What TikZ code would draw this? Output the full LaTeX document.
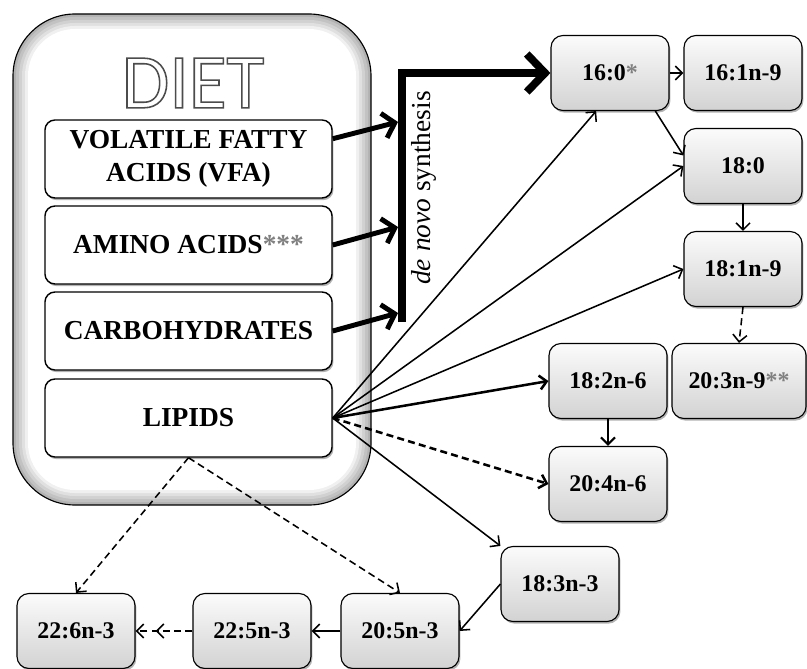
\documentclass[tikz,border=0pt]{standalone}
\usepackage{fontspec}
\setmainfont{Liberation Serif}
\newfontfamily\dietfont{Carlito}
\usetikzlibrary{arrows.meta,shadows}

\newcommand{\stars}[1]{\textcolor{gray}{#1}}
\newcommand{\hollow}[1]{\special{pdf:literal 1 Tr 1.1 w 0.3 G}#1\special{pdf:literal 0 Tr}}

\tikzset{
  dietbox/.style={draw, line width=1pt, rounded corners=0.25cm, fill=white,
    minimum width=7.175cm, minimum height=1.95cm, inner sep=0pt, align=center,
    font=\fontsize{19.5}{23}\selectfont\bfseries,
    drop shadow={shadow xshift=1pt, shadow yshift=-1.5pt, opacity=0.6}},
  fabox/.style={draw, line width=0.8pt, rounded corners=0.3cm,
    top color=gray!3, bottom color=gray!35,
    minimum width=2.95cm, minimum height=1.875cm, inner sep=0pt,
    font=\fontsize{17}{20}\selectfont\bfseries,
    drop shadow={shadow xshift=1pt, shadow yshift=-1.5pt, opacity=0.6}},
  feed/.style={line width=3.5pt, -{Straight Barb[length=8pt,width=18pt]}},
  denovo/.style={line width=5.5pt, -{Straight Barb[length=13pt,width=27pt]}},
  conv/.style={line width=1.1pt, -{Straight Barb[length=5pt,width=10pt]}},
  minor/.style={conv, dash pattern=on 5pt off 3pt},
}

\begin{document}
\begin{tikzpicture}[x=0.025cm, y=-0.025cm]
\useasboundingbox (0,0) rectangle (807,669);

% diet frame
\foreach \d/\c in {0/60,3/48,6/36,9/24,12/12,15/0}
  \fill[gray!\c, rounded corners={(62-\d)*0.025cm}] (13+\d,14+\d) rectangle (371-\d,505-\d);
\draw[line width=0.8pt, rounded corners=1.55cm] (13,14) rectangle (371,505);

\node[inner sep=0pt] (diet) at (193,83) {\dietfont\fontsize{55}{55}\selectfont\hollow{DIET}};

\node[dietbox] (vfa) at (188.5,159) {VOLATILE FATTY\\ACIDS (VFA)};
\node[dietbox] (amino) at (188.5,245) {AMINO ACIDS\stars{***}};
\node[dietbox] (carbo) at (188.5,331) {CARBOHYDRATES};
\node[dietbox] (lipids) at (188.5,418) {LIPIDS};

% fatty acids
\node[fabox] (p160) at (610,73) {16:0\stars{*}};
\node[fabox] (m161) at (743,73) {16:1n-9};
\node[fabox] (s180) at (743,166) {18:0};
\node[fabox] (o181) at (743,269) {18:1n-9};
\node[fabox, minimum width=3.35cm] (t203) at (739,381) {20:3n-9\stars{**}};
\node[fabox] (l182) at (608,381) {18:2n-6};
\node[fabox] (a204) at (608,484) {20:4n-6};
\node[fabox] (ln183) at (560,584) {18:3n-3};
\node[fabox] (e205) at (400,631) {20:5n-3};
\node[fabox] (d225) at (252,631) {22:5n-3};
\node[fabox] (d226) at (76,631) {22:6n-3};

% de novo synthesis
\coordinate (n1) at (398,122);
\coordinate (n2) at (398,227);
\coordinate (n3) at (398,313);
\coordinate (barbot) at (402,322);
\draw[feed] (vfa.8) -- (n1);
\draw[feed] (amino.east) -- (n2);
\draw[feed] (carbo.east) -- (n3);
\draw[denovo] (barbot) |- (p160.west);
\node[rotate=90] (dntext) at (424,188) {\fontsize{19.5}{22}\selectfont\textit{de novo} synthesis};

% from lipids
\draw[conv] (lipids.east) -- (p160.250);
\draw[conv] (lipids.east) -- (s180.west);
\draw[conv] (lipids.east) -- (o181.west);
\draw[conv, line width=1.8pt] (lipids.east) -- (l182.west);
\draw[minor, line width=1.8pt] (lipids.east) -- (a204.west);
\draw[conv] (lipids.east) -- (ln183.north west);
\draw[minor] (lipids.south) -- (d226.north);
\draw[minor] (lipids.south) -- (e205.north);

% elongation and desaturation
\draw[conv] (p160.east) -- (m161.west);
\draw[conv] (p160.-40) -- (s180.170);
\draw[conv] (s180.south) -- (o181.north);
\draw[minor] (o181.south) -- (t203.north);
\draw[conv, line width=1.5pt] (l182.south) -- (a204.north);
\draw[conv] (ln183.west) -- (e205.east);
\draw[conv] (e205.west) -- (d225.east);
\draw[minor, -{Straight Barb[length=5pt,width=10pt,sep=8pt] Straight Barb[length=5pt,width=10pt]}] (d225.west) -- (d226.east);
\end{tikzpicture}
\end{document}
